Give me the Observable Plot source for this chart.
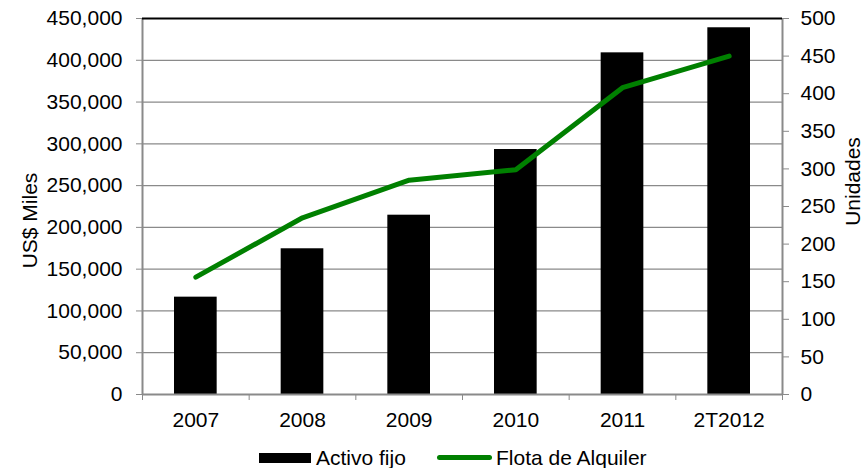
<!DOCTYPE html>
<html>
<head>
<meta charset="utf-8">
<script src="https://cdn.jsdelivr.net/npm/d3@7"></script>
<script src="https://cdn.jsdelivr.net/npm/@observablehq/plot@0.6"></script>
<style>
  html, body { margin: 0; padding: 0; background: white; }
  #wrap { width: 865px; height: 468px; position: relative; font-family: 'Liberation Sans', Arial, sans-serif; }
  #legend { position: relative; width: 865px; height: 28px; font-size: 21px; color: black; }
  #legend .sw { position: absolute; }
  #legend .lab { position: absolute; line-height: 21px; top: 7px; white-space: nowrap; }
</style>
</head>
<body>
<div id="wrap"><div id="chart"></div>
<div id="legend">
  <div class="sw" style="left:259px; top:13px; width:52px; height:10px; background:black;"></div>
  <span class="lab" style="left:316px;">Activo fijo</span>
  <div class="sw" style="left:437px; top:15px; width:55px; height:5px; background:#008000; border-radius:3px;"></div>
  <span class="lab" style="left:496px;">Flota de Alquiler</span>
</div>
</div>
<script>
const categories = ["2007", "2008", "2009", "2010", "2011", "2T2012"];
const activoFijo = [116500, 174400, 214600, 293200, 408900, 438900];
const flotaAlquiler = [156, 235, 285, 299, 408, 450];
const leftTicks = [0, 50000, 100000, 150000, 200000, 250000, 300000, 350000, 400000, 450000];
const rightTicks = [0, 50, 100, 150, 200, 250, 300, 350, 400, 450, 500];
const RATIO = 450000 / 500;

const data = categories.map((c, i) => ({c, i, activo: activoFijo[i], flota: flotaAlquiler[i]}));
const font = "'Liberation Sans', Arial, sans-serif";
const grid = "#8a8a8a";

const chart = Plot.plot({
  width: 865, height: 440,
  marginLeft: 142, marginRight: 83, marginTop: 18, marginBottom: 46,
  style: {fontFamily: font, fontSize: "21px", color: "black", background: "white", overflow: "visible"},
  x: {type: "linear", domain: [0, categories.length]},
  y: {domain: [0, 450000]},
  marks: [
    Plot.ruleY(leftTicks.slice(1, -1), {stroke: grid, strokeWidth: 1.3}),
    Plot.rectY(data, {x1: d => d.i + 0.3, x2: d => d.i + 0.7, y: "activo", fill: "black"}),
    Plot.line(data, {x: d => d.i + 0.5, y: d => d.flota * RATIO, stroke: "#008000", strokeWidth: 5, strokeLinecap: "round", strokeLinejoin: "round"}),
    Plot.ruleY([0], {stroke: grid, strokeWidth: 2}),
    Plot.ruleX([0, categories.length], {stroke: grid, strokeWidth: 2}),
    Plot.ruleY([450000], {stroke: "black", strokeWidth: 2}),
    Plot.axisY(leftTicks, {anchor: "left", tickSize: 6, tickPadding: 14, tickFormat: d3.format(","), stroke: grid, label: null, fontSize: 21}),
    Plot.axisY(rightTicks.map(v => v * RATIO), {anchor: "right", tickSize: 6, tickPadding: 12, tickFormat: v => String(Math.round(v / RATIO)), stroke: grid, label: null, fontSize: 21}),
    Plot.axisX(d3.range(0, categories.length + 1), {tickSize: 6, tickFormat: () => "", stroke: grid, label: null}),
    Plot.axisX(data.map(d => d.i + 0.5), {tickSize: 0, tickPadding: 18, tickFormat: v => categories[Math.floor(v)], label: null, fontSize: 21}),
    Plot.text(["US$ Miles"], {frameAnchor: "left", rotate: -90, textAnchor: "middle", dx: -112, dy: 14, fontSize: 21}),
    Plot.text(["Unidades"], {frameAnchor: "right", rotate: -90, textAnchor: "middle", dx: 71, dy: -25, fontSize: 21})
  ]
});
document.getElementById("chart").appendChild(chart);
</script>
</body>
</html>
